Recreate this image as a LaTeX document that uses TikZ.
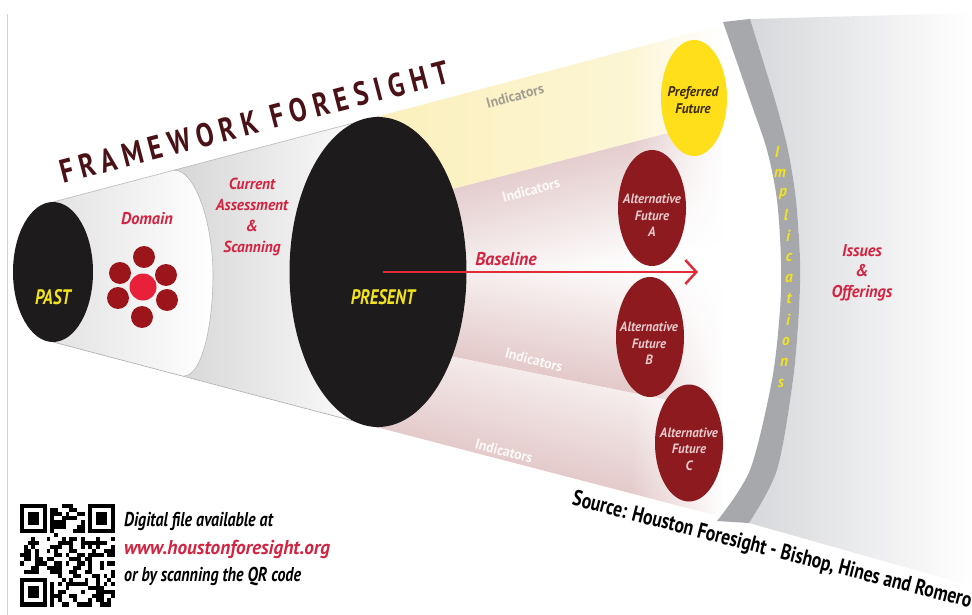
\documentclass[tikz,border=0pt]{standalone}
\usepackage{fontspec}
\setmainfont{PT Sans}
\newfontfamily\cnd[FakeStretch=0.8]{PT Sans}
\newfontfamily\cndi[FakeStretch=0.96]{PT Sans}
\newfontfamily\ttlfont[FakeStretch=0.8,LetterSpace=20]{PT Sans}
\usetikzlibrary{shapes.geometric,fadings,arrows.meta}
\definecolor{ink}{HTML}{1E1B1C}
\definecolor{crim}{HTML}{D42340}
\definecolor{maroon}{HTML}{8C1A1F}
\definecolor{dotdark}{HTML}{9B151B}
\definecolor{dotred}{HTML}{E8203A}
\definecolor{yel}{HTML}{FFDF1A}
\definecolor{ytxt}{HTML}{F3E31F}
\definecolor{ylight}{HTML}{FBF0BC}
\definecolor{pinkA}{HTML}{D6B2B3}
\definecolor{pinkB}{HTML}{D8B3B4}
\definecolor{bandgray}{HTML}{A7A8AB}
\definecolor{rgray}{HTML}{D7D8DB}
\definecolor{alttxt}{HTML}{E7C9CA}
\definecolor{titlec}{HTML}{4A1216}
\definecolor{arrowred}{HTML}{E22B36}
\definecolor{preftxt}{HTML}{3A2A05}
\definecolor{indgray}{HTML}{A39E90}
\tikzfading[name=fadeR, left color=transparent!100, right color=transparent!0]
\tikzset{
  lbl/.style={inner sep=0pt, align=center},
  blk/.style={ellipse, fill=ink, inner sep=0pt},
  fut/.style={ellipse, fill=maroon, inner sep=0pt, minimum width=68pt},
  dotsm/.style={circle, fill=dotdark, inner sep=0pt, minimum size=22pt},
  redtxt/.style={lbl, text=crim, font=\cndi\bfseries\itshape\fontsize{17}{20.5}\selectfont},
  alttext/.style={lbl, text=alttxt, font=\cndi\bfseries\itshape\fontsize{13.5}{16.5}\selectfont},
  indtxt/.style={lbl, font=\cndi\bfseries\fontsize{14.5}{16}\selectfont},
  implet/.style={lbl, text=ytxt, font=\cndi\bfseries\itshape\fontsize{16}{18}\selectfont},
  bigyel/.style={lbl, text=ytxt, font=\cnd\bfseries\itshape\fontsize{21}{24}\selectfont},
  titletxt/.style={lbl, font=\ttlfont\bfseries\fontsize{33}{36}\selectfont, rotate=14.6}
}
\begin{document}
\begin{tikzpicture}[x=1pt,y=-1pt]
\useasboundingbox (0,0) rectangle (972,615);
\fill[white] (0,0) rectangle (972,615);
\draw[gray!35, line width=1pt] (7,14) -- (7,615);

% right region (issues & offerings)
\shade[left color=rgray, middle color=rgray!75!white, right color=white]
 (750,19) -- (972,13) -- (972,586) -- (749,523) -- plot[smooth] coordinates {(749,523) (777,470) (793,380) (799,310) (800,260) (796,200) (788,150) (775,100) (750,19)} -- cycle;

% tube sections
\shade[left color=gray!22, right color=white] (53,202) -- (174,170) .. controls (196,170) and (213,225) .. (213,275) .. controls (213,325) and (202,376) .. (184,376) -- (53,342) -- cycle;
\shade[left color=gray!32, middle color=white, right color=white] (174,170) -- (380,116) -- (380,428) -- (184,376) .. controls (202,376) and (213,325) .. (213,275) .. controls (213,225) and (196,170) .. (174,170) -- cycle;
\draw[gray!55, line width=0.6pt] (174,170) .. controls (196,170) and (213,225) .. (213,275) .. controls (213,325) and (202,376) .. (184,376);
\draw[gray!50, line width=0.7pt] (53,202) -- (380,116);
\draw[gray!60, line width=0.7pt] (53,342) -- (380,428);

% future bands
\shade[left color=ylight, right color=ylight!50!white] (380,116) -- (722,25) -- (722,119) -- (380,208) -- cycle;
\shade[top color=pinkA, bottom color=white, shading angle=14.6] (380,208) -- (722,119) -- (722,264) -- (380,264) -- cycle;
\shade[top color=white, bottom color=pinkB, shading angle=-11] (380,264) -- (722,264) -- (722,411) -- (380,342) -- cycle;
\shade[top color=white, middle color=pinkB!85!white, bottom color=pinkB, shading angle=-14.6] (380,342) -- (722,411) -- (722,517) -- (380,428) -- cycle;
\fill[white, path fading=fadeR] (630,15) rectangle (724,525);

% implications band
\fill[bandgray] plot[smooth] coordinates {(723,22) (750,100) (767,150) (777,200) (781,260) (780,310) (772,380) (750,470) (717,521)} -- plot[smooth] coordinates {(749,523) (777,470) (793,380) (799,310) (800,260) (796,200) (788,150) (775,100) (750,19)} -- cycle;

% ellipses
\node[blk, minimum width=80pt, minimum height=140pt] (past) at (53,272) {};
\node[blk, minimum width=177pt, minimum height=310pt] (present) at (378,272) {};
\node[ellipse, fill=yel, inner sep=0pt, minimum width=66pt, minimum height=116pt] (pref) at (694,98) {};
\node[fut, minimum height=116pt] (altA) at (652,208) {};
\node[fut, minimum height=120pt] (altB) at (650,337) {};
\node[fut, minimum height=117pt] (altC) at (689,443) {};

% domain dots
\node[circle, fill=dotred, inner sep=0pt, minimum size=27pt] (dc) at (143,287) {};
\node[dotsm] (d1) at (144,257) {};
\node[dotsm] (d2) at (120,273) {};
\node[dotsm] (d3) at (166,275) {};
\node[dotsm] (d4) at (118,298) {};
\node[dotsm] (d5) at (167,300) {};
\node[dotsm] (d6) at (142,317) {};

% baseline
\coordinate (bs) at (383,272);
\coordinate (be) at (698,272);
\draw[arrowred, line width=2.5pt, -{Straight Barb[length=11pt,width=24pt]}] (bs) -- (be);
\node[redtxt, font=\cndi\bfseries\itshape\fontsize{18.5}{20}\selectfont] (baseT) at (506,259) {Baseline};

% labels
\node[bigyel] (pastT) at (53,297) {PAST};
\node[bigyel] (presT) at (383,297) {PRESENT};
\node[redtxt] (domT) at (147,219) {Domain};
\node[redtxt, font=\cndi\bfseries\itshape\fontsize{16}{21}\selectfont] (curT) at (252,216.5) {Current\\Assessment\\\&\\Scanning};
\node[redtxt] (issT) at (862,272.5) {Issues\\\&\\Offerings};
\node[lbl, text=preftxt, font=\cndi\bfseries\itshape\fontsize{14}{17}\selectfont] (prefT) at (693,100.5) {Preferred\\Future};
\node[alttext] (altAT) at (652,215.5) {Alternative\\Future\\A};
\node[alttext] (altBT) at (649,343.5) {Alternative\\Future\\B};
\node[alttext] (altCT) at (689,449) {Alternative\\Future\\C};

% indicators
\node[indtxt, text=indgray, rotate=15] (ind0) at (515,96) {Indicators};
\node[indtxt, text=white!92!pinkA, rotate=15] (ind1) at (531,190) {Indicators};
\node[indtxt, text=white!92!pinkA, rotate=-15] (ind2) at (534,360) {Indicators};
\node[indtxt, text=white!92!pinkA, rotate=-15] (ind3) at (504,451) {Indicators};

% implications letters
\foreach \ch/\xx/\yy [count=\k] in {I/777/152, m/780/173, p/783/194, l/786/215, i/788/236, c/789/257, a/789/278, t/789/299, i/788/320, o/786/341, n/784/362, s/781/383}
  \node[implet] (imp\k) at (\xx,\yy) {\ch};

% title
\node[titletxt, text=titlec] (title) at (254,122) {FRAMEWORK FORESIGHT};

% source
\node[lbl, text=black, font=\cnd\bfseries\fontsize{22}{24}\selectfont, rotate=-14.5] (src) at (772,551) {Source: Houston Foresight - Bishop, Hines and Romero};

% QR code
\begin{scope}[shift={(20,504)}, x=3.8pt, y=-4.1pt]
  \pgfmathsetseed{4217}
  \foreach \ox/\oy in {0/0, 18/0, 0/18} {
    \fill[black] (\ox,\oy) rectangle ++(7,7);
    \fill[white] (\ox+1,\oy+1) rectangle ++(5,5);
    \fill[black] (\ox+2,\oy+2) rectangle ++(3,3);
  }
  \foreach \i in {0,...,24} {
    \foreach \j in {0,...,24} {
      \pgfmathtruncatemacro\skipit{((\i<8)&&(\j<8))||((\i>16)&&(\j<8))||((\i<8)&&(\j>16))}
      \pgfmathtruncatemacro\on{rnd<0.5}
      \ifnum\skipit=0 \ifnum\on=1 \fill[black] (\i,\j) rectangle ++(1,1); \fi\fi
    }
  }
\end{scope}
\node[lbl, anchor=west, align=left, font=\bfseries\itshape\fontsize{20}{27.5}\selectfont] (qrT) at (124,549.5) {{\cnd Digital file available at}\\{\cndi\textcolor{crim}{www.houstonforesight.org}}\\{\cnd or by scanning the QR code}};
\end{tikzpicture}
\end{document}
